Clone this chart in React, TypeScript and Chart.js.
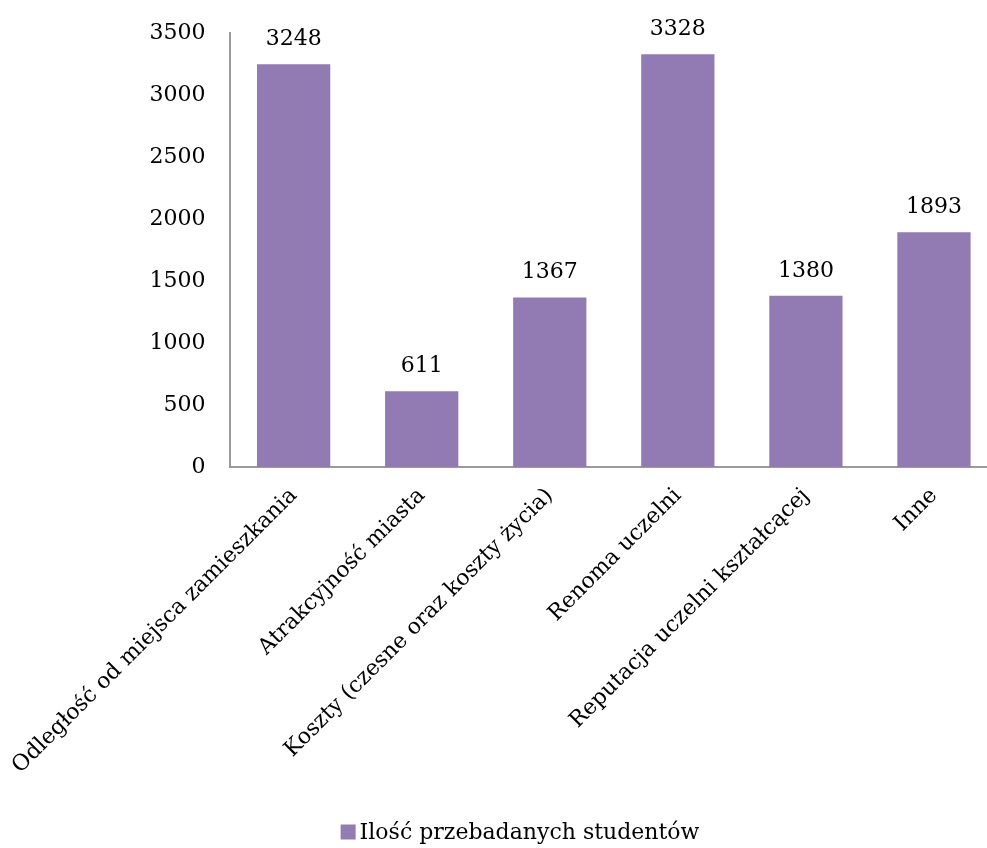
import React, { useEffect, useRef } from "react";
import { Chart, registerables } from "chart.js";

Chart.register(...registerables);

const categories: string[] = [
  "Odległość od miejsca zamieszkania",
  "Atrakcyjność miasta",
  "Koszty (czesne oraz koszty życia)",
  "Renoma uczelni",
  "Reputacja uczelni kształcącej",
  "Inne",
];
const seriesName = "Ilość przebadanych studentów";
const values: number[] = [3248, 611, 1367, 3328, 1380, 1893];
const yMin = 0;
const yMax = 3500;
const yStep = 500;

const FONT = "'DejaVu Serif', serif";
const BAR = "#927AB2";

const valueLabels = {
  id: "valueLabels",
  afterDatasetsDraw(chart: any) {
    const ctx = chart.ctx;
    const meta = chart.getDatasetMeta(0);
    ctx.save();
    ctx.font = `22px ${FONT}`;
    ctx.fillStyle = "#000";
    ctx.textAlign = "center";
    ctx.textBaseline = "bottom";
    meta.data.forEach((el: any, i: number) => {
      ctx.fillText(String(chart.data.datasets[0].data[i]), el.x, el.y - 14);
    });
    ctx.restore();
  },
};

const bottomLegend = {
  id: "bottomLegend",
  afterDraw(chart: any) {
    const ctx = chart.ctx;
    const label = chart.data.datasets[0].label as string;
    ctx.save();
    ctx.font = `22px ${FONT}`;
    const tw = ctx.measureText(label).width;
    const box = 15;
    const gap = 4;
    const total = box + gap + tw;
    const cx = 520;
    const cy = 832;
    const x0 = cx - total / 2;
    ctx.fillStyle = chart.data.datasets[0].backgroundColor;
    ctx.fillRect(x0, cy - box / 2, box, box);
    ctx.fillStyle = "#000";
    ctx.textAlign = "left";
    ctx.textBaseline = "middle";
    ctx.fillText(label, x0 + box + gap, cy + 1);
    ctx.restore();
  },
};

export default function App() {
  const ref = useRef<HTMLCanvasElement | null>(null);
  useEffect(() => {
    document.body.style.margin = "0";
    const chart = new Chart(ref.current as HTMLCanvasElement, {
      type: "bar",
      data: {
        labels: categories,
        datasets: [
          {
            label: seriesName,
            data: values,
            backgroundColor: BAR,
            borderWidth: 0,
            categoryPercentage: 1,
            barPercentage: 0.572,
          },
        ],
      },
      options: {
        animation: false,
        responsive: false,
        devicePixelRatio: 1,
        layout: { padding: { top: 33, right: 42, left: 3, bottom: 61 } },
        plugins: {
          tooltip: { enabled: false },
          legend: { display: false },
        },
        scales: {
          x: {
            grid: { display: false },
            border: { display: true, color: "#9A9A9A", width: 2 },
            ticks: {
              autoSkip: false,
              minRotation: 45,
              maxRotation: 45,
              color: "#000",
              padding: 8,
              font: { family: FONT, size: 22 },
            },
          },
          y: {
            min: yMin,
            max: yMax,
            grid: { display: false },
            border: { display: true, color: "#9A9A9A", width: 2 },
            ticks: {
              stepSize: yStep,
              color: "#000",
              padding: 16,
              font: { family: FONT, size: 22 },
              callback: (v: any) => String(v),
            },
          },
        },
      },
      plugins: [valueLabels, bottomLegend],
    });
    return () => chart.destroy();
  }, []);
  return (
    <div style={{ position: "absolute", left: 0, top: 0, width: 987, height: 848, overflow: "hidden", background: "#fff" }}>
      <canvas ref={ref} width={1040} height={848} style={{ width: 1040, height: 848 }} />
    </div>
  );
}
